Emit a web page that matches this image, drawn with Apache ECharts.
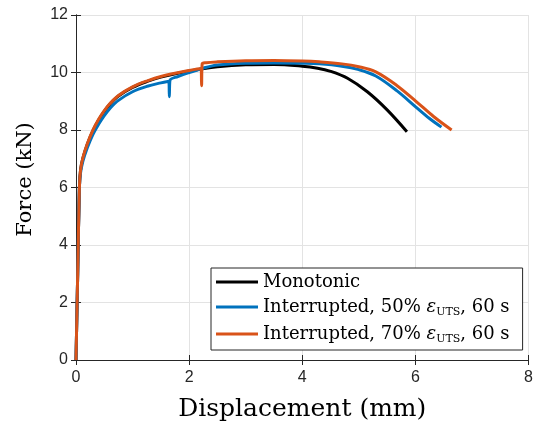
<!DOCTYPE html>
<html>
<head>
<meta charset="utf-8">
<script src="https://cdn.jsdelivr.net/npm/echarts@6/dist/echarts.min.js"></script>
<style>
  html, body { margin: 0; padding: 0; background: #fff; }
  #main { width: 536px; height: 427px; }
</style>
</head>
<body>
<div id="main"></div>
<script>
// valores (deslocamento em mm, força em kN)
const monoX = [0, 0.03, 0.06, 0.08, 0.12, 0.2, 0.3, 0.4, 0.5, 0.6, 0.75, 1.0, 1.26, 1.5, 2.0, 2.5, 3.0, 3.5, 4.0, 4.27, 4.5, 4.8, 5.15, 5.5, 5.85];
const monoY = [0, 3, 6, 6.6, 7.0, 7.5, 7.98, 8.35, 8.65, 8.9, 9.18, 9.48, 9.69, 9.84, 10.05, 10.2, 10.27, 10.28, 10.22, 10.15, 10.04, 9.8, 9.33, 8.7, 7.94];

const int50X = [0, 0.03, 0.06, 0.08, 0.12, 0.2, 0.3, 0.4, 0.5, 0.6, 0.75, 1.0, 1.26, 1.5, 1.64, 1.65, 1.66, 1.8, 2.0, 2.25, 2.5, 3.0, 3.5, 4.0, 4.3, 4.7, 5.0, 5.3, 5.67, 6.02, 6.25, 6.46];
const int50Y = [0, 3, 6, 6.5, 6.9, 7.38, 7.85, 8.2, 8.5, 8.75, 9.03, 9.33, 9.52, 9.64, 9.7, 9.16, 9.72, 9.86, 10.0, 10.15, 10.26, 10.32, 10.33, 10.32, 10.3, 10.22, 10.1, 9.88, 9.37, 8.78, 8.4, 8.1];

const int70X = [0, 0.03, 0.06, 0.08, 0.12, 0.2, 0.3, 0.4, 0.5, 0.6, 0.75, 1.0, 1.26, 1.5, 2.0, 2.21, 2.22, 2.23, 2.3, 2.5, 3.0, 3.5, 4.0, 4.3, 4.7, 5.0, 5.3, 5.67, 6.02, 6.32, 6.64];
const int70Y = [0, 3, 6, 6.6, 7.02, 7.52, 8.0, 8.37, 8.67, 8.92, 9.2, 9.5, 9.71, 9.86, 10.07, 10.14, 9.54, 10.3, 10.34, 10.37, 10.41, 10.42, 10.4, 10.37, 10.3, 10.2, 10.02, 9.55, 8.98, 8.47, 8.0];

const names = ['Monotonic', 'Interrupted, 50% εUTS, 60 s', 'Interrupted, 70% εUTS, 60 s'];
const cores = ['#000000', '#0072BD', '#D95319'];
const xTicks = { min: 0, max: 8, interval: 2 };
const yTicks = { min: 0, max: 12, interval: 2 };

const zip = (xs, ys) => xs.map((x, i) => [x, ys[i]]);
const serif = '"DejaVu Serif", "Liberation Serif", serif';
const sans = '"Liberation Sans", Arial, sans-serif';
const eixo = '#262626';

const chart = echarts.init(document.getElementById('main'));

const baseAxis = (pos, ticks, extra) => Object.assign({
    type: 'value',
    position: pos,
    min: ticks.min,
    max: ticks.max,
    interval: ticks.interval,
    axisLine: { show: true, lineStyle: { color: eixo, width: 1 } },
    axisTick: { show: true, inside: true, length: 5, lineStyle: { color: eixo } },
    axisLabel: { show: false },
    splitLine: { show: false }
}, extra);

const option = {
    animation: false,
    backgroundColor: '#fff',
    grid: { left: 76, right: 3, top: 15, bottom: 66, containLabel: false },
    xAxis: [
        baseAxis('bottom', xTicks, {
            name: 'Displacement (mm)',
            nameLocation: 'middle',
            nameGap: 37,
            nameTextStyle: { fontFamily: serif, fontSize: 25, color: '#000' },
            axisLabel: { show: true, fontFamily: sans, fontSize: 16, color: eixo, margin: 10 },
            splitLine: { show: true, lineStyle: { color: '#e3e3e3', width: 1 } }
        }),
        baseAxis('top', xTicks, {})
    ],
    yAxis: [
        baseAxis('left', yTicks, {
            name: 'Force (kN)',
            nameLocation: 'middle',
            nameGap: 40,
            nameTextStyle: { fontFamily: serif, fontSize: 21, color: '#000', padding: [0, 0, 0, 16] },
            axisLabel: { show: true, fontFamily: sans, fontSize: 16, color: eixo, margin: 8 },
            splitLine: { show: true, lineStyle: { color: '#e3e3e3', width: 1 } }
        }),
        baseAxis('right', yTicks, {})
    ],
    legend: {
        data: names.map((n, i) => ({ name: n, icon: 'rect', itemStyle: { color: cores[i] } })),
        orient: 'vertical',
        left: 211,
        top: 268,
        padding: [5, 13, 5, 5],
        itemGap: 7,
        itemWidth: 42,
        itemHeight: 3,
        backgroundColor: '#fff',
        borderColor: eixo,
        borderWidth: 1,
        borderRadius: 0,
        formatter: function (name) {
            if (name.indexOf('εUTS') < 0) return '{t|' + name + '}';
            const p = name.split('εUTS');
            return '{t|' + p[0] + '}{e|ε}{s|UTS}{t|' + p[1] + '}';
        },
        textStyle: {
            color: '#000',
            rich: {
                t: { fontFamily: serif, fontSize: 18, color: '#000', lineHeight: 22 },
                e: { fontFamily: serif, fontSize: 18, fontStyle: 'italic', color: '#000', lineHeight: 22 },
                s: { fontFamily: serif, fontSize: 11, color: '#000', verticalAlign: 'bottom', lineHeight: 12 }
            }
        }
    },
    series: [
        [monoX, monoY], [int50X, int50Y], [int70X, int70Y]
    ].map((d, i) => ({
        name: names[i],
        type: 'line',
        data: zip(d[0], d[1]),
        showSymbol: false,
        symbol: 'none',
        smooth: 0.35,
        z: 2 + i,
        color: cores[i],
        lineStyle: { color: cores[i], width: 3 }
    }))
};

chart.setOption(option);
</script>
</body>
</html>
